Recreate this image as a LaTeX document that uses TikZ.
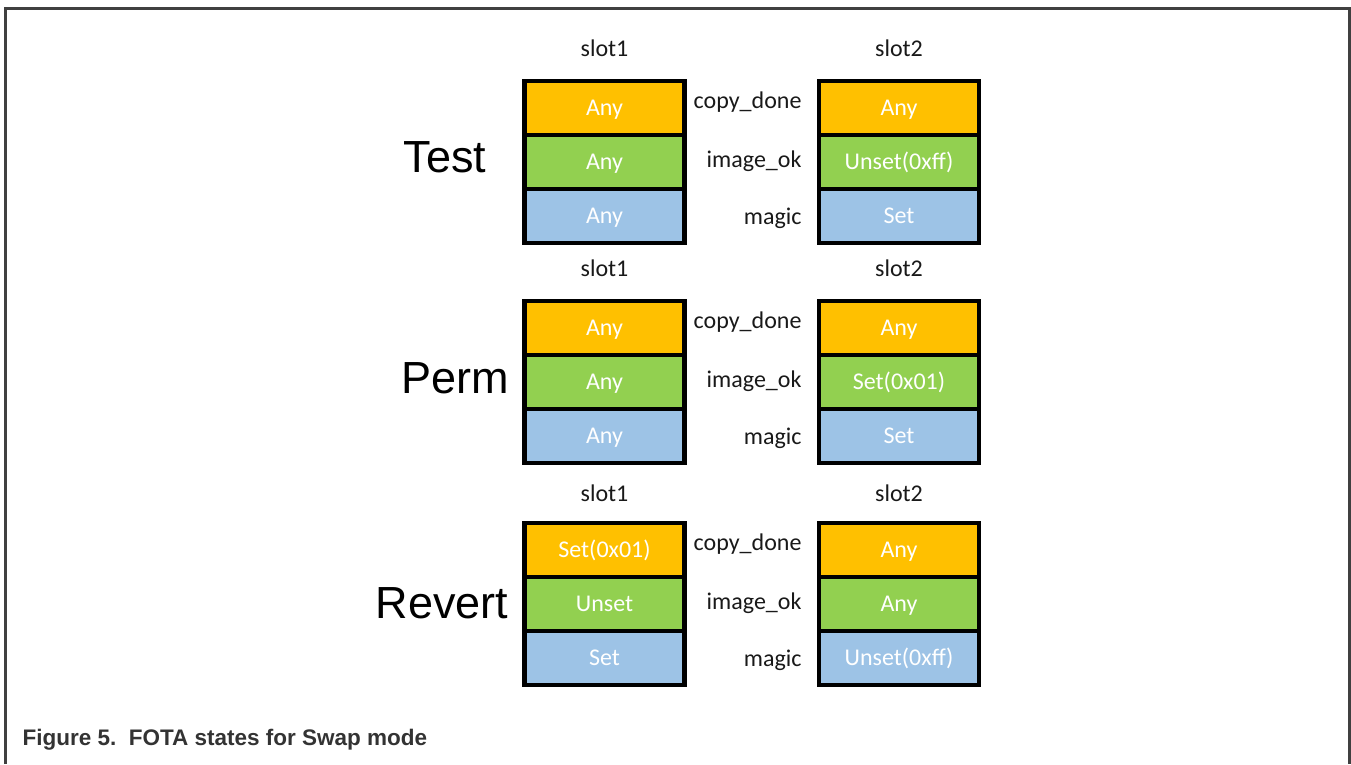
\documentclass[tikz,border=0pt]{standalone}
\usepackage{fontspec}
\setmainfont{Carlito}
\newfontfamily\arialfont{Liberation Sans}
\usetikzlibrary{positioning}
\definecolor{flagorange}{HTML}{FFC000}
\definecolor{flaggreen}{HTML}{92D050}
\definecolor{flagblue}{HTML}{9DC3E6}
\definecolor{frameline}{HTML}{404040}
\definecolor{captiongray}{HTML}{333333}

\begin{document}
\begin{tikzpicture}[x=1pt,y=1pt,font=\fontsize{24}{28}\selectfont]
    \tikzstyle{cell}=[draw, line width=4.5pt, minimum width=160pt, minimum height=54pt, inner sep=0pt, text height=17pt, text depth=3pt, node distance=54pt, on grid, text=white]
    \tikzstyle{copydone}=[cell, fill=flagorange]
    \tikzstyle{imageok}=[cell, fill=flaggreen]
    \tikzstyle{magic}=[cell, fill=flagblue]
    \tikzstyle{slotname}=[text=black!90]
    \tikzstyle{field}=[anchor=base east, text=black!90]
    \tikzstyle{mode}=[font=\arialfont\fontsize{45}{50}\selectfont]

    \useasboundingbox (0,0) rectangle (1351,-764);
    \draw[frameline, line width=3pt] (5,-764) -- (5,-8) -- (1349,-8) -- (1349,-764);

    % Test
    \node[mode] (test) at (445,-157) {Test};
    \node[copydone] (testsa) at (604.5,-108) {Any};
    \node[imageok,below of=testsa] (testsb) {Any};
    \node[magic,below of=testsb] (testsc) {Any};
    \node[copydone] (testta) at (899,-108) {Any};
    \node[imageok,below of=testta] (testtb) {Unset(0xff)};
    \node[magic,below of=testtb] (testtc) {Set};
    \node[slotname] (testslot1) at (604.5,-48) {slot1};
    \node[slotname] (testslot2) at (899,-48) {slot2};
    \node[field] (testcd) at (805,-108) {copy\_done};
    \node[field] (testok) at (805,-167) {image\_ok};
    \node[field] (testmg) at (805,-224) {magic};

    % Perm
    \node[mode] (perm) at (455,-378) {Perm};
    \node[copydone] (permsa) at (604.5,-328) {Any};
    \node[imageok,below of=permsa] (permsb) {Any};
    \node[magic,below of=permsb] (permsc) {Any};
    \node[copydone] (permta) at (899,-328) {Any};
    \node[imageok,below of=permta] (permtb) {Set(0x01)};
    \node[magic,below of=permtb] (permtc) {Set};
    \node[slotname] (permslot1) at (604.5,-268) {slot1};
    \node[slotname] (permslot2) at (899,-268) {slot2};
    \node[field] (permcd) at (805,-328) {copy\_done};
    \node[field] (permok) at (805,-387) {image\_ok};
    \node[field] (permmg) at (805,-444) {magic};

    % Revert
    \node[mode] (revert) at (442,-603) {Revert};
    \node[copydone] (revertsa) at (604.5,-550) {Set(0x01)};
    \node[imageok,below of=revertsa] (revertsb) {Unset};
    \node[magic,below of=revertsb] (revertsc) {Set};
    \node[copydone] (revertta) at (899,-550) {Any};
    \node[imageok,below of=revertta] (reverttb) {Any};
    \node[magic,below of=reverttb] (reverttc) {Unset(0xff)};
    \node[slotname] (revertslot1) at (604.5,-493) {slot1};
    \node[slotname] (revertslot2) at (899,-493) {slot2};
    \node[field] (revertcd) at (805,-550) {copy\_done};
    \node[field] (revertok) at (805,-609) {image\_ok};
    \node[field] (revertmg) at (805,-666) {magic};

    \node[anchor=base west, text=captiongray, font=\arialfont\bfseries\fontsize{22.5}{26}\selectfont] (caption) at (19,-745) {Figure 5.\ \ FOTA states for Swap mode};
\end{tikzpicture}
\end{document}
